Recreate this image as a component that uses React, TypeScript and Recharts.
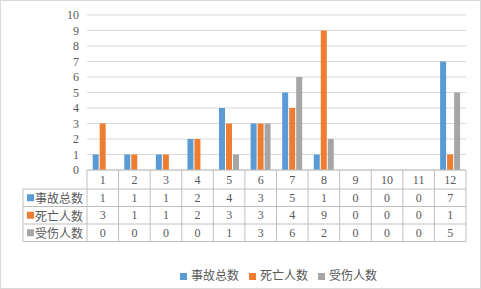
import { BarChart, Bar, XAxis, YAxis, CartesianGrid, Legend } from "recharts";

// monthly data
const months = ["1", "2", "3", "4", "5", "6", "7", "8", "9", "10", "11", "12"];
const accidents = [1, 1, 1, 2, 4, 3, 5, 1, 0, 0, 0, 7];
const deaths = [3, 1, 1, 2, 3, 3, 4, 9, 0, 0, 0, 1];
const injuries = [0, 0, 0, 0, 1, 3, 6, 2, 0, 0, 0, 5];
const yTicks = [0, 1, 2, 3, 4, 5, 6, 7, 8, 9, 10];

const seriesKeys = ["accidents", "deaths", "injuries"];
const seriesNames = ["事故总数", "死亡人数", "受伤人数"];
const colors = ["#5B9BD5", "#ED7D31", "#A5A5A5"];

const data = months.map((m, i) => ({
    month: m,
    accidents: accidents[i],
    deaths: deaths[i],
    injuries: injuries[i],
}));

const W = 481;
const H = 289;
const PLOT_LEFT = 87;
const PLOT_RIGHT = 466;
const BAND = (PLOT_RIGHT - PLOT_LEFT) / months.length;
const ROWS = [170, 189, 206.5, 224, 241.5];
const LABEL_LEFT = 23;
const TEXT = "#595959";
const LINE = "#BFBFBF";
const FONT = "'Liberation Serif', 'Noto Sans CJK SC', serif";
const CJK = "'Noto Sans CJK SC', sans-serif";

function TableTick(props: any) {
    const { x, payload } = props;
    const i = props.index ?? payload.index;
    const row: any = data[i];
    const left = x - BAND / 2;
    const right = x + BAND / 2;
    const mid = (k: number) => (ROWS[k] + ROWS[k + 1]) / 2;

    return (
        <g>
            {i === 0 && (
                <g>
                    <line x1={left} y1={ROWS[0]} x2={left} y2={ROWS[4]} stroke={LINE} />
                    <line x1={LABEL_LEFT} y1={ROWS[1]} x2={LABEL_LEFT} y2={ROWS[4]} stroke={LINE} />
                    {ROWS.slice(1).map((y) => (
                        <line key={y} x1={LABEL_LEFT} y1={y} x2={left} y2={y} stroke={LINE} />
                    ))}
                    {seriesNames.map((name, k) => (
                        <g key={name}>
                            <rect x={27} y={mid(k + 1) - 3.5} width={7} height={7} fill={colors[k]} />
                            <text x={35} y={mid(k + 1)} dominantBaseline="central" fontSize={12} fontFamily={CJK} fill={TEXT}>
                                {name}
                            </text>
                        </g>
                    ))}
                </g>
            )}
            <line x1={right} y1={ROWS[0]} x2={right} y2={ROWS[4]} stroke={LINE} />
            {ROWS.slice(1).map((y) => (
                <line key={y} x1={left} y1={y} x2={right} y2={y} stroke={LINE} />
            ))}
            <text x={x} y={mid(0)} textAnchor="middle" dominantBaseline="central" fontSize={12} fontFamily={FONT} fill={TEXT}>
                {payload.value}
            </text>
            {seriesKeys.map((key, k) => (
                <text key={key} x={x} y={mid(k + 1)} textAnchor="middle" dominantBaseline="central" fontSize={12} fontFamily={FONT} fill={TEXT}>
                    {row[key]}
                </text>
            ))}
        </g>
    );
}

export default function App() {
    return (
        <div style={{ position: "absolute", left: 0, top: 0, width: W, height: H, background: "#fff" }}>
            <BarChart
                width={W}
                height={H}
                data={data}
                margin={{ top: 15, right: W - PLOT_RIGHT, bottom: 89, left: 0 }}
                barCategoryGap="18%"
                barGap={1}
            >
                <CartesianGrid vertical={false} stroke="#D9D9D9" />
                <XAxis
                    dataKey="month"
                    height={30}
                    tickLine={false}
                    axisLine={{ stroke: LINE }}
                    interval={0}
                    tick={<TableTick />}
                />
                <YAxis
                    width={PLOT_LEFT}
                    domain={[0, 10]}
                    ticks={yTicks}
                    interval={0}
                    tickLine={false}
                    axisLine={false}
                    tick={{ fill: TEXT, fontSize: 12, fontFamily: FONT }}
                />
                <Legend
                    layout="horizontal"
                    verticalAlign="middle"
                    align="center"
                    iconType="square"
                    iconSize={7}
                    itemSorter={(item: any) => seriesNames.indexOf(item.value)}
                    wrapperStyle={{ position: "absolute", left: 180, top: 266, width: "auto", fontSize: 12, fontFamily: CJK }}
                    formatter={(value: string) => <span style={{ color: TEXT }}>{value}</span>}
                />
                {seriesKeys.map((key, k) => (
                    <Bar key={key} dataKey={key} name={seriesNames[k]} fill={colors[k]} isAnimationActive={false} />
                ))}
            </BarChart>
            <div
                style={{
                    position: "absolute",
                    left: 0,
                    top: 0,
                    width: W,
                    height: H,
                    boxSizing: "border-box",
                    border: "1px solid #D9D9D9",
                    pointerEvents: "none",
                }}
            />
        </div>
    );
}
